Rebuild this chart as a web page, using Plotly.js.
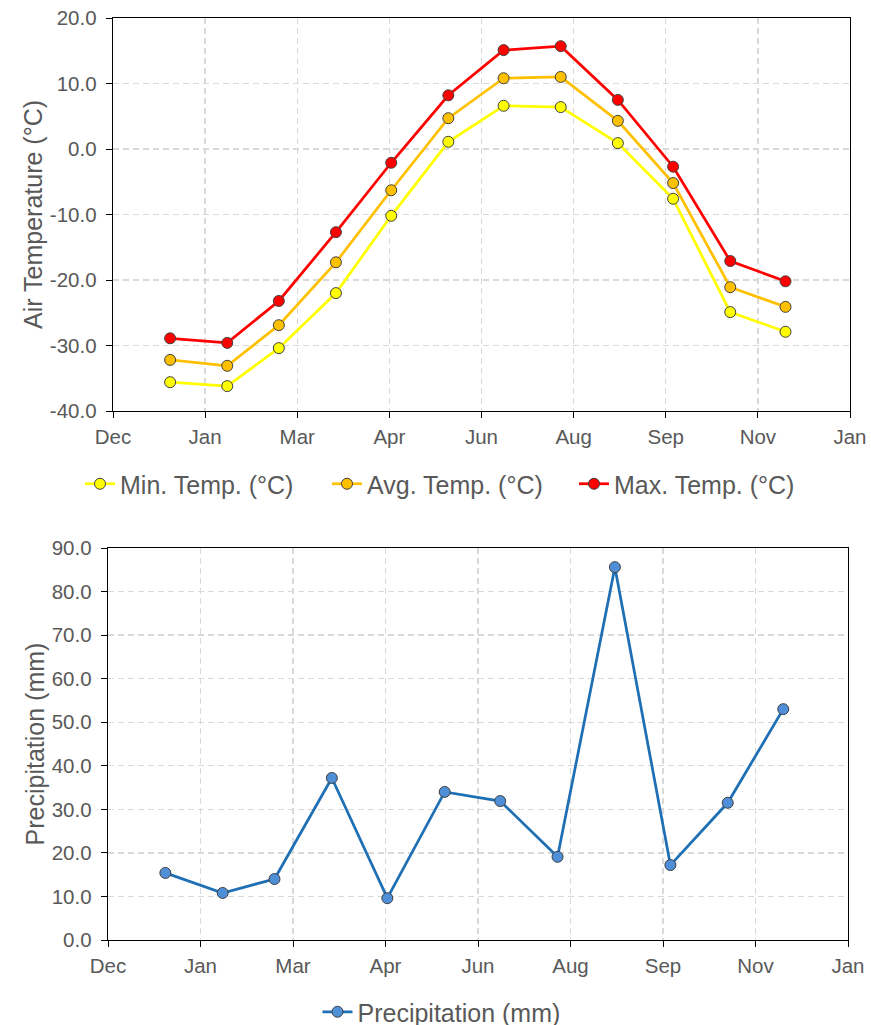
<!DOCTYPE html>
<html><head><meta charset="utf-8">
<script src="https://cdn.plot.ly/plotly-3.0.1.min.js"></script>
<style>body{margin:0;padding:0;background:#fff}#c{width:871px;height:1025px}</style>
</head><body><div id="c"></div>
<script>
const dates = ['2019-01-01','2019-02-01','2019-03-01','2019-04-01','2019-05-01','2019-06-01','2019-07-01','2019-08-01','2019-09-01','2019-10-01','2019-11-01','2019-12-01'];
const minTemp = [-35.6,-36.2,-30.4,-22.0,-10.2,1.1,6.6,6.4,0.9,-7.6,-24.9,-27.9];
const avgTemp = [-32.2,-33.1,-26.9,-17.3,-6.3,4.7,10.8,11.0,4.3,-5.2,-21.1,-24.1];
const maxTemp = [-28.9,-29.6,-23.2,-12.7,-2.1,8.2,15.1,15.7,7.5,-2.7,-17.1,-20.2];
const precip = [15.4,10.8,14.0,37.2,9.6,34.0,31.9,19.1,85.6,17.2,31.5,53.0];
const tempTicks = [-40,-30,-20,-10,0,10,20];
const tempTickText = ['-40.0','-30.0','-20.0','-10.0','0.0','10.0','20.0'];
const precTicks = [0,10,20,30,40,50,60,70,80,90];
const precTickText = ['0.0','10.0','20.0','30.0','40.0','50.0','60.0','70.0','80.0','90.0'];

const mk = (c) => ({size:11, color:c, line:{color:'#404040', width:1}});
const traces = [
  {x:dates, y:minTemp, name:'Min. Temp. (°C)', mode:'lines+markers', line:{color:'#FFFF00', width:2.75}, marker:mk('#FFFF00'), xaxis:'x', yaxis:'y', legend:'legend'},
  {x:dates, y:avgTemp, name:'Avg. Temp. (°C)', mode:'lines+markers', line:{color:'#FFC000', width:2.75}, marker:mk('#FFC000'), xaxis:'x', yaxis:'y', legend:'legend'},
  {x:dates, y:maxTemp, name:'Max. Temp. (°C)', mode:'lines+markers', line:{color:'#FF0000', width:2.75}, marker:mk('#FF0000'), xaxis:'x', yaxis:'y', legend:'legend'},
  {x:dates, y:precip, name:'Precipitation (mm)', mode:'lines+markers', line:{color:'#1F6FB5', width:2.75}, marker:mk('#4F8FD8'), xaxis:'x2', yaxis:'y2', legend:'legend2'}
];
const gray = '#595959';
const FF = 'Liberation Sans, Arial, sans-serif';
const tickFont = {family:FF, size:20.5, color:gray};
const xbase = {
  type:'date', range:['2018-12-01','2020-01-05'], tick0:'2018-12-01', dtick:50*86400000,
  tickformat:'%b', showgrid:true, gridcolor:'#D9D9D9', griddash:'6px,4px', gridwidth:1.3,
  showline:true, linecolor:'#000', linewidth:1.3, mirror:true, ticks:'outside', ticklen:6, tickcolor:'#000',
  tickfont:tickFont, zeroline:false, fixedrange:true, ticklabelstandoff:1
};
const ybase = {
  showgrid:true, gridcolor:'#D9D9D9', griddash:'6px,4px', gridwidth:1.3,
  showline:true, linecolor:'#000', linewidth:1.3, mirror:true, ticks:'outside', ticklen:6, tickcolor:'#000',
  tickfont:tickFont, zeroline:false, tickmode:'array', ticklabelstandoff:5
};
const layout = {
  width:871, height:1025, margin:{l:0,r:0,t:0,b:0, autoexpand:false}, paper_bgcolor:'#fff', plot_bgcolor:'#fff',
  font:{family:FF, color:gray},
  xaxis: Object.assign({}, xbase, {domain:[113/871, 850/871], anchor:'y'}),
  yaxis: Object.assign({}, ybase, {domain:[1-411/1025, 1-18/1025], range:[-40,20], tickvals:tempTicks, ticktext:tempTickText, anchor:'x',
    title:{text:'Air Temperature (°C)', font:{size:25, color:gray}, standoff:0}}),
  xaxis2: Object.assign({}, xbase, {domain:[108/871, 848/871], anchor:'y2'}),
  yaxis2: Object.assign({}, ybase, {domain:[1-940/1025, 1-548/1025], range:[0,90], tickvals:precTicks, ticktext:precTickText, anchor:'x2',
    title:{text:'Precipitation (mm)', font:{size:25, color:gray}, standoff:0}}),
  legend:{orientation:'h', x:80/871, xanchor:'left', y:1-484/1025, yanchor:'middle', font:{size:25, color:gray}, entrywidth:202},
  legend2:{orientation:'h', x:0.5+6/871, xanchor:'center', y:1-1012/1025, yanchor:'middle', font:{size:25, color:gray}},
  showlegend:true
};
Plotly.newPlot('c', traces, layout, {displayModeBar:false, staticPlot:true});
</script></body></html>
